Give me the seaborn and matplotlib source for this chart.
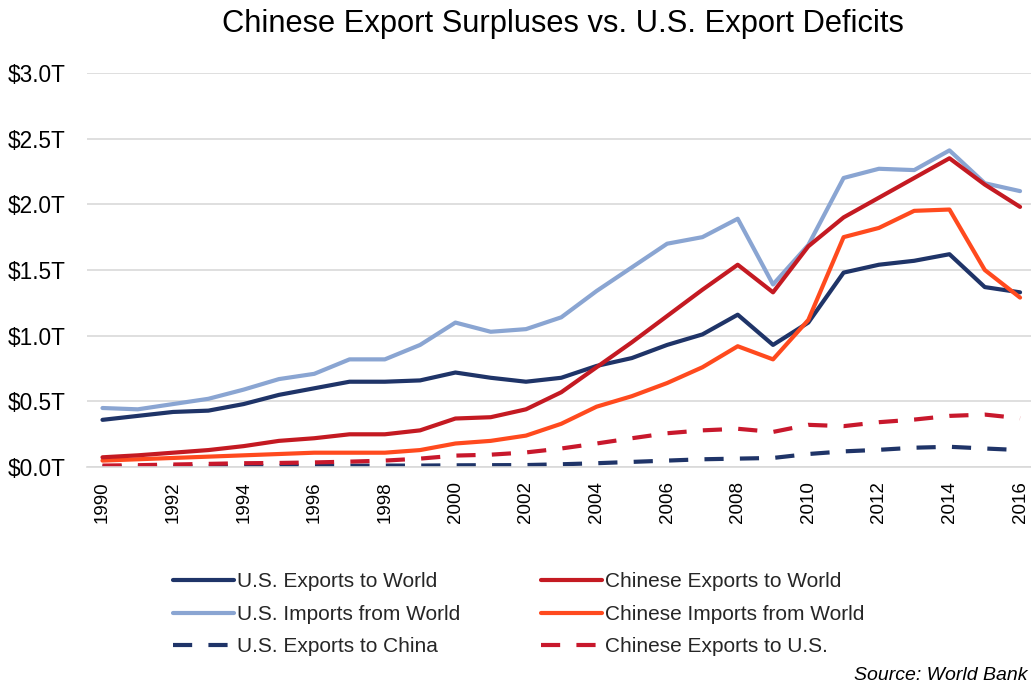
import numpy as np
import pandas as pd
import matplotlib
matplotlib.use("Agg")
import matplotlib.pyplot as plt
import seaborn as sns

years = list(range(1990, 2017))

us_exports_world = [0.36, 0.39, 0.42, 0.43, 0.48, 0.55, 0.60, 0.65, 0.65, 0.66,
                    0.72, 0.68, 0.65, 0.68, 0.77, 0.83, 0.93, 1.01, 1.16, 0.93,
                    1.10, 1.48, 1.54, 1.57, 1.62, 1.37, 1.33]
us_imports_world = [0.45, 0.44, 0.48, 0.52, 0.59, 0.67, 0.71, 0.82, 0.82, 0.93,
                    1.10, 1.03, 1.05, 1.14, 1.34, 1.52, 1.70, 1.75, 1.89, 1.39,
                    1.69, 2.20, 2.27, 2.26, 2.41, 2.16, 2.10]
us_exports_china = [0.004, 0.005, 0.006, 0.007, 0.008, 0.010, 0.010, 0.011, 0.012, 0.012,
                    0.014, 0.015, 0.016, 0.022, 0.030, 0.040, 0.050, 0.060, 0.065, 0.070,
                    0.100, 0.120, 0.132, 0.148, 0.155, 0.142, 0.130]
cn_exports_world = [0.075, 0.09, 0.11, 0.13, 0.16, 0.20, 0.22, 0.25, 0.25, 0.28,
                    0.37, 0.38, 0.44, 0.57, 0.76, 0.95, 1.15, 1.35, 1.54, 1.33,
                    1.68, 1.90, 2.05, 2.20, 2.35, 2.15, 1.98]
cn_imports_world = [0.05, 0.06, 0.07, 0.08, 0.09, 0.10, 0.11, 0.11, 0.11, 0.13,
                    0.18, 0.20, 0.24, 0.33, 0.46, 0.54, 0.64, 0.76, 0.92, 0.82,
                    1.12, 1.75, 1.82, 1.95, 1.96, 1.50, 1.29]
cn_exports_us = [0.012, 0.015, 0.020, 0.025, 0.030, 0.032, 0.036, 0.042, 0.050, 0.065,
                 0.088, 0.095, 0.112, 0.142, 0.180, 0.220, 0.258, 0.280, 0.292, 0.268,
                 0.322, 0.312, 0.342, 0.362, 0.390, 0.400, 0.372]

series_names = ["U.S. Exports to World", "U.S. Imports from World", "U.S. Exports to China",
                "Chinese Exports to World", "Chinese Imports from World", "Chinese Exports to U.S."]
y_ticks = [0.0, 0.5, 1.0, 1.5, 2.0, 2.5, 3.0]
y_tick_labels = ["$0.0T", "$0.5T", "$1.0T", "$1.5T", "$2.0T", "$2.5T", "$3.0T"]
x_ticks = list(range(1990, 2017, 2))

sns.set_theme(style="white")
plt.rcParams['font.family'] = ['Liberation Sans', 'DejaVu Sans']

fig = plt.figure(figsize=(10.31, 6.87), dpi=100)
ax = fig.add_axes([0.084, 0.320, 0.916, 0.574])

navy = "#1F3468"
lightblue = "#8AA5D2"
darkred = "#C41A22"
orange = "#FF4A1E"
dashred = "#C8182C"

lw = 3.0
dash = (0, (4.6, 3.9))

data = [
    (us_exports_world, navy, "-"),
    (us_imports_world, lightblue, "-"),
    (us_exports_china, navy, dash),
    (cn_exports_world, darkred, "-"),
    (cn_imports_world, orange, "-"),
    (cn_exports_us, dashred, dash),
]
order = [2, 5, 1, 0, 4, 3]
lines = {}
for i in order:
    vals, col, ls = data[i]
    df = pd.DataFrame({"year": years, "value": vals})
    sns.lineplot(data=df, x="year", y="value", ax=ax, color=col, linewidth=lw,
                 linestyle=ls, label=series_names[i], legend=False)
    lines[i] = ax.get_lines()[-1]

ax.set_xlim(1989.55, 2016.31)
ax.set_ylim(0, 3.0)
ax.set_yticks(y_ticks)
ax.set_yticklabels(y_tick_labels, fontsize=16.3, color="#000000")
ax.set_xticks(x_ticks)
ax.set_xticklabels([str(x) for x in x_ticks], rotation=90, fontsize=13.5, color="#000000")
ax.tick_params(axis="x", length=0, pad=10)
ax.tick_params(axis="y", length=0, pad=15)
ax.set_xlabel("")
ax.set_ylabel("")
ax.grid(axis="y", color="#D9D9D9", linewidth=1.2)
ax.set_axisbelow(True)
for s in ["top", "right", "left"]:
    ax.spines[s].set_visible(False)
ax.spines["bottom"].set_color("#D9D9D9")
ax.spines["bottom"].set_linewidth(1.2)

fig.text(0.546, 0.965, "Chinese Export Surpluses vs. U.S. Export Deficits",
         ha="center", va="center", fontsize=22.2, color="#000000")

handles = [lines[i] for i in range(6)]
fig.legend(handles, series_names, ncol=2, loc="upper left",
           bbox_to_anchor=(0.158, 1 - 562 / 687), frameon=False,
           fontsize=15, handlelength=2.9, handletextpad=0.15,
           columnspacing=3.9, labelspacing=0.65, borderpad=0,
           bbox_transform=fig.transFigure)

fig.text(0.997, 0.004, "Source: World Bank", ha="right", va="bottom",
         fontsize=14, style="italic", color="#000000")

fig.savefig("out.png", dpi=100)
